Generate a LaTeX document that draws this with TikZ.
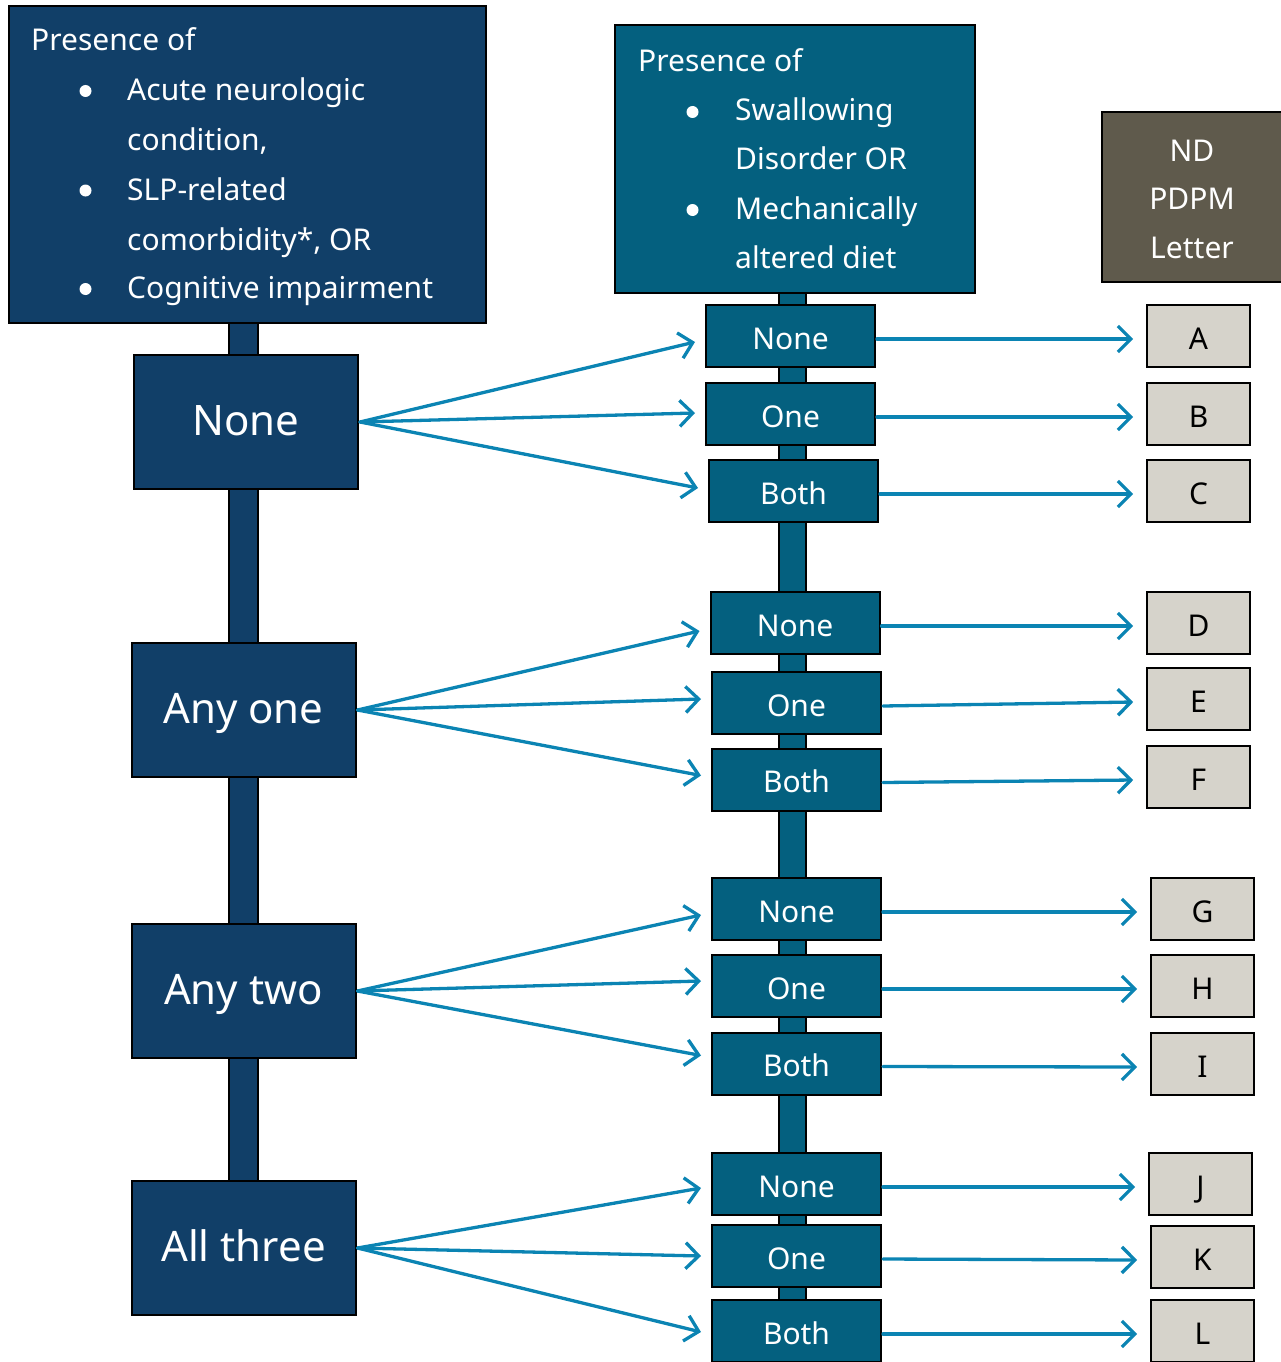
\documentclass[tikz,border=0pt]{standalone}
\usepackage{fontspec}
\setmainfont{Noto Sans}
\usetikzlibrary{arrows.meta}
\definecolor{navy}{HTML}{113F68}
\definecolor{midblue}{HTML}{04607F}
\definecolor{arrowblue}{HTML}{0B84B3}
\definecolor{ndgray}{HTML}{5F5A4C}
\definecolor{lettergray}{HTML}{D6D3CB}
\tikzset{
  navybox/.style={draw=black, line width=2pt, fill=navy, text=white, inner sep=0pt},
  bigbox/.style={navybox, minimum width=224pt, minimum height=134pt,
    font=\fontsize{42}{50}\selectfont, text height=27.6pt, text depth=0pt},
  midbox/.style={draw=black, line width=2pt, fill=midblue, text=white, inner sep=0pt,
    minimum width=169pt, minimum height=62pt, font=\fontsize{30}{36}\selectfont,
    text height=26.6pt, text depth=0pt},
  letterbox/.style={draw=black, line width=1.6pt, fill=lettergray, text=black, inner sep=0pt,
    minimum width=103pt, minimum height=62pt, font=\fontsize{30}{36}\selectfont,
    text height=26.6pt, text depth=0pt},
  conn/.style={draw=arrowblue, line width=3.3pt, line cap=round,
    -{Straight Barb[length=13pt,width=26pt,line width=3.3pt]}},
  barline/.style={draw=black, line width=1.2pt},
  hdrtext/.style={text=white, anchor=base west, inner sep=0pt, font=\fontsize{30}{36}\selectfont},
  bul/.style={circle, fill=white, minimum size=12pt, inner sep=0pt},
  ndtext/.style={text=white, anchor=base, inner sep=0pt, font=\fontsize{30}{36}\selectfont},
}
\begin{document}
\begin{tikzpicture}[x=1pt,y=-1pt]
\useasboundingbox (0,0) rectangle (1281,1362);
% vertical bars
\draw[barline, fill=navy] (229,318) rectangle (258,1186);
\draw[barline, fill=midblue] (779,290) rectangle (806,1305);

% left header
\node[navybox, minimum width=477pt, minimum height=317pt] (hL) at (247.5,164.5) {};
\node[hdrtext] (hL0) at (31,51) {Presence of};
\node[bul] (bL1) at (85.5,91) {};
\node[bul] (bL2) at (85.5,190.5) {};
\node[bul] (bL3) at (85.5,289) {};
\node[hdrtext] (hL1) at (127,100.7) {Acute neurologic};
\node[hdrtext] (hL2) at (127,150) {condition,};
\node[hdrtext] (hL3) at (127,200) {SLP-related};
\node[hdrtext] (hL4) at (127,250) {comorbidity{\bfseries *}, OR};
\node[hdrtext] (hL5) at (127,298.7) {Cognitive impairment};

% middle header
\node[draw=black, line width=2pt, fill=midblue, minimum width=360pt, minimum height=268pt, inner sep=0pt] (hM) at (795,159) {};
\node[hdrtext] (hM0) at (638,72) {Presence of};
\node[bul] (bM1) at (692.5,112) {};
\node[bul] (bM2) at (692.5,210) {};
\node[hdrtext] (hM1) at (735,121) {Swallowing};
\node[hdrtext] (hM2) at (735,169.5) {Disorder OR};
\node[hdrtext] (hM3) at (735,219) {Mechanically};
\node[hdrtext] (hM4) at (735,268) {altered diet};

% ND PDPM Letter
\node[draw=black, line width=2pt, fill=ndgray, minimum width=181pt, minimum height=170pt, inner sep=0pt] (nd) at (1192.5,197) {};
\node[ndtext] (nd1) at (1192,161) {ND};
\node[ndtext] (nd2) at (1192,209) {PDPM};
\node[ndtext] (nd3) at (1192,258) {Letter};

% left boxes
\node[bigbox] (L1) at (246,422) {None};
\node[bigbox] (L2) at (243.5,710) {Any one};
\node[bigbox] (L3) at (243.5,991) {Any two};
\node[bigbox] (L4) at (243.5,1248) {All three};

% middle boxes
\node[midbox] (m11) at (790.5,336) {None};
\node[midbox] (m12) at (790.5,414) {One};
\node[midbox] (m13) at (793.5,491) {Both};
\node[midbox] (m21) at (795,623) {None};
\node[midbox] (m22) at (796.5,703) {One};
\node[midbox] (m23) at (796.5,779.5) {Both};
\node[midbox] (m31) at (796.5,909) {None};
\node[midbox] (m32) at (796.5,986) {One};
\node[midbox] (m33) at (796.5,1063.5) {Both};
\node[midbox] (m41) at (796.5,1184) {None};
\node[midbox] (m42) at (796.5,1256) {One};
\node[midbox] (m43) at (796.5,1331) {Both};

% letter boxes
\node[letterbox] (A) at (1198.5,336) {A};
\node[letterbox] (B) at (1198.5,414) {B};
\node[letterbox] (C) at (1198.5,491) {C};
\node[letterbox] (D) at (1198.5,623) {D};
\node[letterbox] (E) at (1198.5,699) {E};
\node[letterbox] (F) at (1198.5,777) {F};
\node[letterbox] (G) at (1202.5,909) {G};
\node[letterbox] (H) at (1202.5,986) {H};
\node[letterbox] (I) at (1202.5,1064) {I};
\node[letterbox] (J) at (1200.5,1184) {J};
\node[letterbox] (K) at (1202.5,1257) {K};
\node[letterbox] (L) at (1202.5,1331) {L};

% left arrows (dy: vertical offset of the tip, pt, TeX direction)
\foreach \s/\t/\dy in {L1/m11/-6,L1/m12/1,L1/m13/3,L2/m21/-8,L2/m22/4,L2/m23/4,
                       L3/m31/-6,L3/m32/5,L3/m33/8,L4/m41/-4,L4/m42/0,L4/m43/-1}
  \draw[conn] ([xshift=1pt]\s.east) -- ([xshift=-10pt,yshift=\dy pt]\t.west);
% right arrows
\foreach \s/\t in {m11/A,m12/B,m13/C,m21/D,m22/E,m23/F,m31/G,m32/H,m33/I,m41/J,m42/K,m43/L}
  \draw[conn] ([xshift=1pt,yshift=-3pt]\s.east) -- ([xshift=-13pt,yshift=-3pt]\t.west);
\end{tikzpicture}
\end{document}
